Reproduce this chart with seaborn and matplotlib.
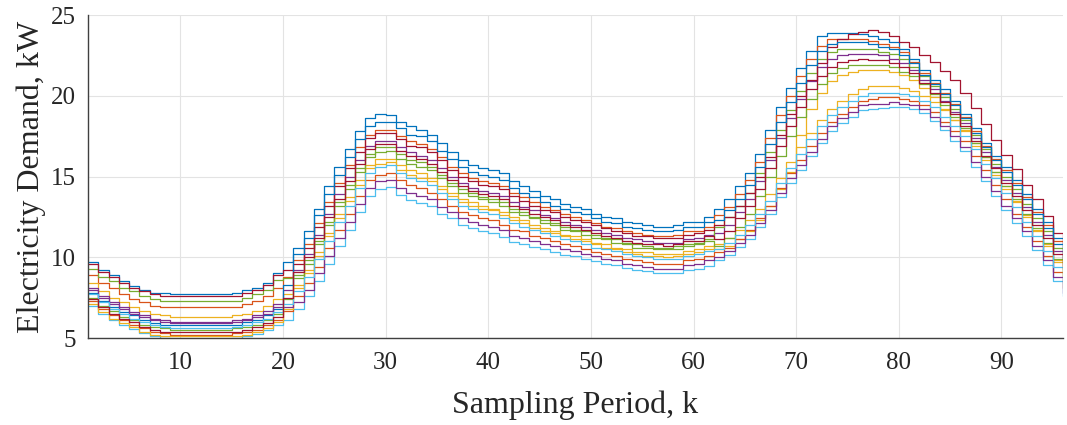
import matplotlib
matplotlib.use("Agg")
import matplotlib.pyplot as plt
import pandas as pd
import seaborn as sns

# Sampling periods (x categories)
k = list(range(1, 97))

# Electricity demand scenarios (kW)
s01 = [9.7, 9.2, 8.9, 8.5, 8.2, 8.0, 7.8, 7.8, 7.7, 7.7, 7.7, 7.7, 7.7, 7.7, 7.8, 8.0, 8.1, 8.4, 9.0, 9.7,
       10.6, 11.6, 13.0, 14.4, 15.6, 16.7, 17.8, 18.6, 18.9, 18.8, 18.4, 18.1, 17.9, 17.6, 17.1, 16.5, 16.0, 15.7, 15.5, 15.4,
       15.2, 14.7, 14.4, 14.1, 13.8, 13.6, 13.3, 13.1, 13.0, 12.7, 12.5, 12.4, 12.2, 12.1, 12.0, 11.9, 11.9, 12.0, 12.2, 12.2,
       12.5, 13.0, 13.6, 14.4, 15.2, 16.4, 17.9, 19.3, 20.5, 21.7, 22.8, 23.7, 23.9, 23.9, 23.9, 23.8, 23.7, 23.5, 23.3, 22.9,
       22.3, 21.6, 21.0, 20.4, 19.7, 18.9, 18.0, 17.1, 16.3, 15.6, 14.8, 13.9, 13.0, 12.2, 11.2, 10.3]
s02 = [9.6, 9.1, 8.8, 8.4, 8.1, 7.9, 7.7, 7.6, 7.6, 7.6, 7.6, 7.6, 7.6, 7.6, 7.6, 7.8, 8.0, 8.3, 8.9, 9.2,
       9.6, 10.6, 11.9, 13.2, 14.4, 15.5, 16.5, 17.4, 17.7, 17.7, 17.3, 16.9, 16.8, 16.5, 16.0, 15.4, 15.0, 14.7, 14.5, 14.4,
       14.2, 13.8, 13.5, 13.2, 12.9, 12.8, 12.5, 12.3, 12.2, 12.0, 11.8, 11.6, 11.5, 11.3, 11.3, 11.2, 11.2, 11.2, 11.4, 11.5,
       11.7, 12.0, 12.5, 13.2, 14.0, 15.0, 16.2, 17.6, 18.9, 20.0, 21.0, 22.0, 23.0, 23.5, 23.8, 23.95, 24.1, 23.95, 23.7, 23.35,
       23.0, 22.55, 22.1, 21.55, 20.95, 20.15, 19.25, 18.25, 17.25, 16.35, 15.45, 14.5, 13.6, 12.55, 11.5, 10.8]
s03 = [9.3, 8.8, 8.5, 8.1, 7.9, 7.6, 7.4, 7.3, 7.3, 7.3, 7.3, 7.3, 7.3, 7.3, 7.3, 7.5, 7.7, 8.0, 8.6, 8.7,
       8.9, 9.8, 11.0, 12.2, 13.4, 14.5, 15.5, 16.4, 16.8, 16.8, 16.4, 16.0, 15.9, 15.6, 15.1, 14.6, 14.2, 14.0, 13.7, 13.6,
       13.4, 13.0, 12.8, 12.5, 12.3, 12.1, 11.9, 11.7, 11.6, 11.4, 11.2, 11.1, 10.9, 10.8, 10.7, 10.6, 10.6, 10.7, 10.8, 10.9,
       11.1, 11.9, 12.5, 13.2, 14.0, 15.2, 16.5, 17.9, 19.1, 20.3, 21.4, 22.3, 22.7, 22.9, 22.9, 22.9, 22.9, 22.7, 22.6, 22.3,
       21.8, 21.2, 20.6, 19.9, 19.2, 18.5, 17.6, 16.7, 15.8, 15.0, 14.2, 13.3, 12.4, 11.6, 10.6, 9.7]
s04 = [8.9, 8.4, 8.1, 7.7, 7.4, 7.2, 7.0, 6.9, 6.9, 6.9, 6.9, 6.9, 6.9, 6.9, 6.9, 7.1, 7.3, 7.6, 8.1, 8.8,
       9.8, 10.8, 12.1, 13.4, 14.6, 15.7, 16.8, 17.6, 17.9, 17.9, 17.5, 17.2, 17.0, 16.7, 16.2, 15.6, 15.2, 14.9, 14.7, 14.6,
       14.4, 14.0, 13.7, 13.4, 13.1, 12.9, 12.7, 12.5, 12.3, 12.1, 11.9, 11.8, 11.6, 11.5, 11.4, 11.3, 11.3, 11.4, 11.6, 11.6,
       11.9, 12.6, 13.1, 13.9, 14.8, 15.9, 17.4, 18.8, 20.0, 21.2, 22.3, 23.1, 23.5, 23.5, 23.5, 23.5, 23.4, 23.2, 23.0, 22.7,
       22.1, 21.4, 20.8, 20.2, 19.5, 18.7, 17.8, 16.9, 16.1, 15.4, 14.6, 13.7, 12.8, 12.0, 11.0, 10.1]
s05 = [8.4, 7.9, 7.5, 7.2, 6.9, 6.7, 6.5, 6.4, 6.3, 6.3, 6.3, 6.3, 6.3, 6.3, 6.4, 6.5, 6.7, 7.0, 7.4, 7.7,
       8.3, 9.2, 10.3, 11.5, 12.7, 13.7, 14.8, 15.7, 16.1, 16.1, 15.7, 15.4, 15.2, 14.9, 14.4, 14.0, 13.6, 13.4, 13.2, 13.0,
       12.8, 12.5, 12.3, 12.0, 11.8, 11.6, 11.4, 11.3, 11.1, 10.9, 10.8, 10.6, 10.5, 10.3, 10.3, 10.2, 10.2, 10.2, 10.4, 10.5,
       10.7, 10.5, 10.7, 11.1, 11.6, 12.3, 13.2, 14.2, 15.3, 17.6, 19.2, 20.2, 20.9, 21.3, 21.5, 21.6, 21.6, 21.6, 21.5, 21.3,
       21.0, 20.5, 19.9, 19.2, 18.5, 17.8, 16.9, 16.0, 15.1, 14.2, 13.4, 12.5, 11.6, 10.7, 9.7, 8.8]
s06 = [8.1, 7.6, 7.2, 6.9, 6.6, 6.4, 6.2, 6.1, 6.0, 6.0, 6.0, 6.0, 6.0, 6.0, 6.1, 6.2, 6.4, 6.7, 7.1, 8.0,
       9.2, 10.2, 11.4, 12.7, 13.9, 15.0, 16.0, 16.9, 17.2, 17.2, 16.8, 16.5, 16.3, 16.0, 15.5, 15.0, 14.6, 14.3, 14.1, 14.0,
       13.8, 13.4, 13.1, 12.9, 12.6, 12.4, 12.2, 12.0, 11.9, 11.7, 11.5, 11.4, 11.2, 11.1, 11.0, 10.9, 10.9, 10.9, 11.1, 11.2,
       11.4, 11.5, 12.0, 12.8, 13.6, 14.7, 16.0, 17.4, 18.6, 19.8, 20.9, 21.8, 22.3, 22.5, 22.6, 22.6, 22.6, 22.5, 22.3, 22.0,
       21.6, 21.0, 20.4, 19.7, 19.0, 18.3, 17.4, 16.5, 15.6, 14.8, 14.0, 13.1, 12.2, 11.4, 10.4, 9.5]
s07 = [7.8, 7.3, 6.9, 6.6, 6.4, 6.1, 5.9, 5.8, 5.8, 5.8, 5.8, 5.8, 5.8, 5.8, 5.8, 6.0, 6.1, 6.4, 6.8, 8.3,
       10.2, 11.2, 12.6, 13.9, 15.1, 16.2, 17.3, 18.1, 18.4, 18.4, 18.0, 17.6, 17.5, 17.2, 16.6, 16.1, 15.6, 15.3, 15.1, 15.0,
       14.8, 14.3, 14.0, 13.7, 13.4, 13.2, 13.0, 12.8, 12.7, 12.4, 12.2, 12.1, 11.9, 11.8, 11.7, 11.6, 11.6, 11.7, 11.9, 11.9,
       12.2, 12.3, 12.9, 13.6, 14.5, 15.6, 17.0, 18.4, 19.6, 20.8, 21.9, 22.8, 23.2, 23.3, 23.3, 23.3, 23.2, 23.0, 22.9, 22.5,
       22.0, 21.3, 20.7, 20.1, 19.4, 18.6, 17.7, 16.8, 16.0, 15.3, 14.5, 13.6, 12.7, 11.8, 10.8, 9.9]
s08 = [7.7, 7.2, 6.8, 6.5, 6.2, 6.0, 5.8, 5.7, 5.6, 5.6, 5.6, 5.6, 5.6, 5.6, 5.7, 5.8, 6.0, 6.2, 6.6, 7.1,
       7.9, 8.8, 9.9, 11.0, 12.2, 13.2, 14.3, 15.2, 15.6, 15.7, 15.2, 14.9, 14.7, 14.5, 14.0, 13.6, 13.2, 13.0, 12.8, 12.7,
       12.4, 12.1, 11.9, 11.7, 11.5, 11.3, 11.1, 11.0, 10.8, 10.6, 10.5, 10.4, 10.2, 10.1, 10.0, 9.9, 9.9, 9.9, 10.1, 10.2,
       10.4, 10.5, 10.9, 11.4, 12.0, 12.7, 13.5, 14.6, 15.5, 16.4, 17.3, 18.1, 18.8, 19.3, 19.7, 20.0, 20.2, 20.2, 20.2, 20.1,
       20.0, 19.7, 19.3, 18.7, 18.1, 17.5, 16.7, 15.8, 14.9, 14.0, 13.1, 12.2, 11.3, 10.4, 9.4, 8.4]
s09 = [7.5, 7.0, 6.7, 6.3, 6.1, 5.8, 5.7, 5.6, 5.5, 5.5, 5.5, 5.5, 5.5, 5.5, 5.6, 5.7, 5.8, 6.1, 6.5, 7.4,
       8.7, 9.6, 10.8, 12.0, 13.2, 14.2, 15.3, 16.2, 16.5, 16.6, 16.1, 15.8, 15.6, 15.4, 14.9, 14.4, 14.0, 13.8, 13.6, 13.4,
       13.2, 12.8, 12.6, 12.4, 12.1, 12.0, 11.7, 11.6, 11.4, 11.2, 11.1, 10.9, 10.8, 10.6, 10.6, 10.5, 10.5, 10.5, 10.7, 10.8,
       11.0, 10.7, 11.2, 11.9, 12.7, 13.8, 15.0, 16.3, 17.5, 18.7, 19.8, 20.7, 21.4, 21.7, 21.9, 21.9, 21.9, 21.9, 21.8, 21.5,
       21.2, 20.7, 20.1, 19.4, 18.7, 18.0, 17.1, 16.2, 15.3, 14.4, 13.6, 12.7, 11.8, 10.9, 9.9, 9.0]
s10 = [7.4, 6.9, 6.5, 6.2, 6.0, 5.7, 5.5, 5.4, 5.4, 5.4, 5.4, 5.4, 5.4, 5.4, 5.4, 5.5, 5.7, 5.9, 6.3, 7.5,
       9.1, 10.0, 11.2, 12.5, 13.6, 14.7, 15.8, 16.7, 17.0, 17.0, 16.6, 16.3, 16.1, 15.8, 15.3, 14.8, 14.4, 14.1, 13.9, 13.8,
       13.6, 13.2, 13.0, 12.7, 12.5, 12.3, 12.0, 11.9, 11.7, 11.5, 11.3, 11.2, 11.0, 10.9, 10.8, 10.8, 10.7, 10.8, 11.0, 11.0,
       11.3, 11.1, 11.6, 12.4, 13.2, 14.2, 15.5, 16.9, 18.1, 19.3, 20.4, 21.2, 21.8, 22.1, 22.2, 22.3, 22.2, 22.2, 22.0, 21.8,
       21.4, 20.8, 20.2, 19.6, 18.9, 18.1, 17.2, 16.3, 15.5, 14.6, 13.8, 12.9, 12.0, 11.2, 10.2, 9.3]
s11 = [7.3, 6.8, 6.4, 6.1, 5.8, 5.6, 5.4, 5.3, 5.2, 5.2, 5.2, 5.2, 5.2, 5.2, 5.3, 5.4, 5.5, 5.8, 6.1, 6.7,
       7.6, 8.4, 9.4, 10.6, 11.7, 12.7, 13.8, 14.8, 15.1, 15.2, 14.8, 14.5, 14.3, 14.0, 13.6, 13.2, 12.8, 12.6, 12.4, 12.3,
       12.0, 11.7, 11.6, 11.3, 11.2, 11.0, 10.8, 10.7, 10.5, 10.3, 10.2, 10.1, 9.9, 9.8, 9.7, 9.6, 9.6, 9.6, 9.8, 9.9,
       10.1, 10.3, 10.6, 11.1, 11.7, 12.4, 13.2, 14.3, 15.2, 16.0, 16.9, 17.7, 18.4, 18.9, 19.3, 19.7, 19.8, 19.9, 19.9, 19.8,
       19.7, 19.4, 19.0, 18.4, 17.8, 17.2, 16.3, 15.4, 14.5, 13.6, 12.7, 11.9, 11.0, 10.1, 9.1, 8.1]
s12 = [7.1, 6.6, 6.2, 5.9, 5.7, 5.4, 5.2, 5.1, 5.1, 5.1, 5.1, 5.1, 5.1, 5.1, 5.1, 5.2, 5.4, 5.6, 6.0, 6.8,
       8.1, 9.0, 10.1, 11.3, 12.4, 13.5, 14.5, 15.5, 15.8, 15.9, 15.4, 15.1, 14.9, 14.7, 14.2, 13.8, 13.4, 13.2, 13.0, 12.9,
       12.6, 12.3, 12.1, 11.8, 11.6, 11.5, 11.3, 11.1, 11.0, 10.8, 10.6, 10.5, 10.3, 10.2, 10.1, 10.1, 10.0, 10.1, 10.2, 10.3,
       10.5, 10.8, 11.2, 11.7, 12.3, 13.0, 13.9, 14.9, 15.9, 16.8, 17.7, 18.5, 19.2, 19.7, 20.1, 20.4, 20.6, 20.6, 20.6, 20.5,
       20.3, 20.0, 19.6, 19.1, 18.5, 17.9, 17.1, 16.2, 15.3, 14.4, 13.5, 12.6, 11.7, 10.8, 9.8, 8.8]
s13 = [8.0, 7.5, 7.1, 6.8, 6.5, 6.3, 6.1, 6.0, 5.9, 5.9, 5.9, 5.9, 5.9, 5.9, 6.0, 6.1, 6.3, 6.5, 6.9, 6.9,
       7.2, 8.0, 9.0, 10.1, 11.2, 12.2, 13.3, 14.3, 14.7, 14.8, 14.3, 14.0, 13.8, 13.6, 13.1, 12.8, 12.4, 12.2, 12.0, 11.9,
       11.7, 11.3, 11.2, 11.0, 10.8, 10.7, 10.5, 10.4, 10.2, 10.1, 9.9, 9.8, 9.6, 9.5, 9.4, 9.3, 9.3, 9.3, 9.5, 9.6,
       9.8, 10.0, 10.4, 10.9, 11.4, 12.1, 12.9, 14.0, 14.9, 15.7, 16.5, 17.3, 18.1, 18.6, 19.0, 19.4, 19.5, 19.5, 19.6, 19.5,
       19.4, 19.2, 18.7, 18.1, 17.5, 16.8, 15.9, 15.0, 14.1, 13.2, 12.4, 11.6, 10.7, 9.8, 8.8, 7.8]
s14 = [7.0, 6.5, 6.1, 5.8, 5.55, 5.3, 5.1, 5.0, 4.95, 4.95, 4.95, 4.95, 4.95, 4.95, 5.0, 5.1, 5.25, 5.5, 5.8, 6.1,
       6.8, 7.6, 8.5, 9.6, 10.7, 11.7, 12.8, 13.8, 14.2, 14.35, 13.85, 13.55, 13.35, 13.15, 12.7, 12.4, 12.0, 11.8, 11.65, 11.5,
       11.25, 10.95, 10.85, 10.65, 10.5, 10.35, 10.15, 10.05, 9.9, 9.75, 9.6, 9.5, 9.35, 9.2, 9.15, 9.05, 9.0, 9.05, 9.2, 9.3,
       9.45, 9.8, 10.15, 10.65, 11.15, 11.9, 12.7, 13.75, 14.6, 15.4, 16.25, 17.05, 17.8, 18.3, 18.7, 19.1, 19.2, 19.25, 19.3, 19.3,
       19.15, 18.95, 18.45, 17.85, 17.2, 16.55, 15.6, 14.7, 13.8, 12.9, 12.1, 11.3, 10.45, 9.5, 8.5, 7.6]

x_ticks = [10, 20, 30, 40, 50, 60, 70, 80, 90]
y_ticks = [5, 10, 15, 20, 25]

# plotting order (MATLAB colour order cycles through these)
series = {"s01": s01, "s04": s04, "s05": s05, "s06": s06, "s03": s03, "s14": s14, "s02": s02,
          "s07": s07, "s11": s11, "s12": s12, "s13": s13, "s09": s09, "s08": s08, "s10": s10}
matlab_colors = ["#0072BD", "#D95319", "#EDB120", "#7E2F8E", "#77AC30", "#4DBEEE", "#A2142F"]

df = pd.concat([pd.DataFrame({"k": k[:len(v)], "demand": v, "scenario": name})
                for name, v in series.items()], ignore_index=True)
palette = {name: matlab_colors[i % len(matlab_colors)] for i, name in enumerate(series)}

sns.set_style("white")
plt.rcParams["font.family"] = ["Liberation Serif", "DejaVu Serif"]

fig = plt.figure(figsize=(10.67, 4.25), dpi=100)
ax = fig.add_axes([0.0825, 0.2047, 0.9138, 0.76])

sns.lineplot(data=df, x="k", y="demand", hue="scenario", hue_order=list(series),
             palette=palette, drawstyle="steps-post", estimator=None, errorbar=None,
             legend=False, linewidth=0.9, ax=ax)

ax.set_xlim(1, 96)
ax.set_ylim(5, 25)
ax.set_xticks(x_ticks)
ax.set_yticks(y_ticks)
ax.grid(True, color="#e3e3e3", linewidth=0.8)
ax.set_axisbelow(True)
for side in ("top", "right"):
    ax.spines[side].set_visible(False)
for side in ("left", "bottom"):
    ax.spines[side].set_color("#404040")
    ax.spines[side].set_linewidth(1.0)
ax.tick_params(direction="in", length=7, width=0.8, labelsize=18,
               color="#303030", labelcolor="#262626")
ax.tick_params(axis="y", pad=9)
ax.tick_params(axis="x", pad=10)
ax.set_xlabel("Sampling Period, k", fontsize=23, color="#262626", labelpad=12)
ax.set_ylabel("Electricity Demand, kW", fontsize=23, color="#262626", labelpad=3)

fig.savefig("out.png", dpi=100)
